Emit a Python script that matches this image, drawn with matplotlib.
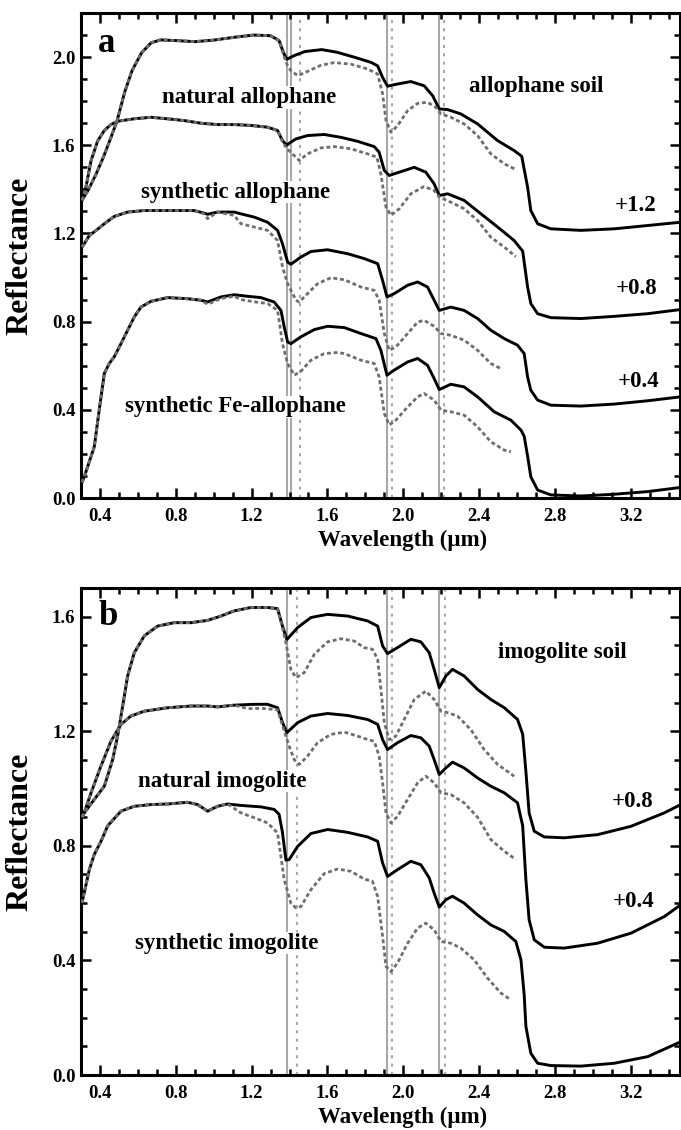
import matplotlib
matplotlib.use("Agg")
import matplotlib.pyplot as plt
from matplotlib.ticker import MultipleLocator, FormatStrFormatter

plt.rcParams['font.family'] = ['Liberation Serif', 'DejaVu Serif']
plt.rcParams['font.weight'] = 'bold'

# ---------------- Panel a: allophane ----------------
a1_wl = [0.305, 0.34, 0.38, 0.42, 0.46, 0.49, 0.53, 0.57, 0.62, 0.67, 0.72, 0.80, 0.90, 1.00, 1.11, 1.21, 1.30, 1.345, 1.368, 1.386, 1.42, 1.48, 1.57, 1.65, 1.74, 1.83, 1.865, 1.891, 1.917, 1.97, 2.04, 2.11, 2.155, 2.19, 2.234, 2.304, 2.392, 2.498, 2.585, 2.625, 2.656, 2.673, 2.709, 2.779, 2.937, 3.113, 3.289, 3.464]
a1_r = [1.35, 1.40, 1.47, 1.55, 1.64, 1.71, 1.84, 1.94, 2.02, 2.065, 2.078, 2.075, 2.07, 2.077, 2.09, 2.10, 2.097, 2.075, 2.02, 1.99, 2.005, 2.025, 2.034, 2.022, 2.0, 1.976, 1.96, 1.908, 1.868, 1.878, 1.889, 1.87, 1.825, 1.765, 1.762, 1.742, 1.697, 1.621, 1.576, 1.55, 1.41, 1.304, 1.244, 1.221, 1.214, 1.221, 1.236, 1.251]
a1d_wl = [0.305, 0.34, 0.38, 0.42, 0.46, 0.49, 0.53, 0.57, 0.62, 0.67, 0.72, 0.80, 0.90, 1.00, 1.11, 1.21, 1.30, 1.345, 1.368, 1.39, 1.41, 1.445, 1.495, 1.566, 1.636, 1.724, 1.812, 1.865, 1.891, 1.909, 1.935, 1.97, 2.023, 2.076, 2.128, 2.172, 2.199, 2.251, 2.321, 2.392, 2.462, 2.533, 2.594]
a1d_r = [1.35, 1.40, 1.47, 1.55, 1.64, 1.71, 1.84, 1.94, 2.02, 2.065, 2.078, 2.075, 2.07, 2.077, 2.09, 2.10, 2.097, 2.075, 2.01, 1.96, 1.935, 1.916, 1.935, 1.963, 1.975, 1.968, 1.946, 1.923, 1.833, 1.712, 1.659, 1.689, 1.757, 1.79, 1.795, 1.772, 1.742, 1.727, 1.697, 1.644, 1.561, 1.516, 1.49]

a2_wl = [0.305, 0.326, 0.353, 0.388, 0.423, 0.458, 0.493, 0.58, 0.67, 0.757, 0.845, 0.933, 1.02, 1.108, 1.196, 1.284, 1.337, 1.363, 1.386, 1.40, 1.434, 1.495, 1.583, 1.671, 1.759, 1.847, 1.873, 1.90, 1.926, 1.979, 2.058, 2.119, 2.163, 2.19, 2.234, 2.321, 2.41, 2.498, 2.585, 2.63, 2.656, 2.673, 2.709, 2.779, 2.937, 3.113, 3.289, 3.464]
a2_r = [1.35, 1.41, 1.53, 1.62, 1.667, 1.694, 1.709, 1.72, 1.727, 1.72, 1.712, 1.70, 1.694, 1.694, 1.69, 1.682, 1.667, 1.621, 1.60, 1.61, 1.629, 1.644, 1.649, 1.636, 1.618, 1.594, 1.568, 1.486, 1.463, 1.478, 1.50, 1.478, 1.425, 1.372, 1.38, 1.35, 1.289, 1.229, 1.168, 1.12, 0.957, 0.882, 0.836, 0.818, 0.814, 0.824, 0.836, 0.855]
a2d_wl = [0.305, 0.326, 0.353, 0.388, 0.423, 0.458, 0.493, 0.58, 0.67, 0.757, 0.845, 0.933, 1.02, 1.108, 1.196, 1.284, 1.337, 1.363, 1.386, 1.407, 1.451, 1.495, 1.566, 1.636, 1.724, 1.812, 1.861, 1.882, 1.909, 1.935, 1.979, 2.04, 2.11, 2.163, 2.19, 2.251, 2.321, 2.392, 2.462, 2.533, 2.594]
a2d_r = [1.35, 1.41, 1.53, 1.62, 1.667, 1.694, 1.709, 1.72, 1.727, 1.72, 1.712, 1.70, 1.694, 1.694, 1.69, 1.682, 1.667, 1.615, 1.585, 1.568, 1.531, 1.561, 1.588, 1.594, 1.584, 1.561, 1.546, 1.47, 1.319, 1.282, 1.312, 1.38, 1.413, 1.395, 1.365, 1.342, 1.312, 1.259, 1.183, 1.138, 1.095]

a3_wl = [0.305, 0.317, 0.344, 0.38, 0.423, 0.475, 0.546, 0.634, 0.757, 0.897, 0.95, 0.968, 1.02, 1.108, 1.144, 1.214, 1.284, 1.337, 1.363, 1.39, 1.407, 1.46, 1.513, 1.60, 1.707, 1.794, 1.865, 1.891, 1.914, 1.952, 2.023, 2.076, 2.128, 2.163, 2.19, 2.251, 2.321, 2.392, 2.462, 2.533, 2.603, 2.638, 2.656, 2.673, 2.709, 2.779, 2.937, 3.113, 3.289, 3.464]
a3_r = [1.138, 1.153, 1.191, 1.214, 1.244, 1.277, 1.297, 1.304, 1.304, 1.304, 1.292, 1.287, 1.297, 1.297, 1.289, 1.274, 1.251, 1.214, 1.153, 1.07, 1.06, 1.093, 1.118, 1.126, 1.108, 1.086, 1.063, 0.987, 0.912, 0.927, 0.965, 0.98, 0.957, 0.897, 0.851, 0.866, 0.851, 0.814, 0.761, 0.723, 0.693, 0.655, 0.549, 0.489, 0.444, 0.421, 0.417, 0.426, 0.441, 0.459]
a3d_wl = [0.305, 0.317, 0.344, 0.38, 0.423, 0.475, 0.546, 0.634, 0.757, 0.897, 0.95, 0.968, 1.02, 1.108, 1.144, 1.214, 1.284, 1.337, 1.363, 1.39, 1.434, 1.451, 1.495, 1.548, 1.618, 1.689, 1.777, 1.847, 1.873, 1.90, 1.926, 1.961, 2.023, 2.076, 2.11, 2.163, 2.199, 2.251, 2.321, 2.392, 2.462, 2.515]
a3d_r = [1.138, 1.153, 1.191, 1.214, 1.244, 1.277, 1.297, 1.304, 1.304, 1.304, 1.289, 1.267, 1.297, 1.282, 1.244, 1.229, 1.214, 1.168, 1.048, 0.972, 0.897, 0.889, 0.927, 0.972, 0.999, 0.99, 0.957, 0.942, 0.897, 0.746, 0.67, 0.685, 0.746, 0.798, 0.806, 0.779, 0.746, 0.738, 0.716, 0.67, 0.61, 0.587]

a4_wl = [0.305, 0.317, 0.335, 0.37, 0.396, 0.423, 0.449, 0.475, 0.511, 0.546, 0.581, 0.616, 0.669, 0.757, 0.862, 0.933, 0.968, 1.038, 1.108, 1.179, 1.249, 1.319, 1.355, 1.372, 1.39, 1.407, 1.46, 1.531, 1.601, 1.689, 1.777, 1.856, 1.882, 1.914, 1.952, 2.023, 2.076, 2.128, 2.163, 2.19, 2.251, 2.321, 2.392, 2.48, 2.568, 2.621, 2.638, 2.656, 2.673, 2.709, 2.779, 2.937, 3.113, 3.289, 3.464]
a4_r = [0.07, 0.096, 0.142, 0.232, 0.399, 0.565, 0.61, 0.64, 0.70, 0.761, 0.821, 0.866, 0.892, 0.909, 0.904, 0.897, 0.889, 0.912, 0.922, 0.915, 0.909, 0.889, 0.851, 0.776, 0.708, 0.70, 0.731, 0.764, 0.779, 0.773, 0.746, 0.723, 0.67, 0.557, 0.58, 0.617, 0.633, 0.602, 0.542, 0.492, 0.516, 0.504, 0.459, 0.391, 0.353, 0.308, 0.28, 0.19, 0.096, 0.036, 0.014, 0.009, 0.017, 0.029, 0.048]
a4d_wl = [0.305, 0.317, 0.335, 0.37, 0.396, 0.423, 0.449, 0.475, 0.511, 0.546, 0.581, 0.616, 0.669, 0.757, 0.862, 0.933, 0.968, 1.038, 1.108, 1.144, 1.214, 1.284, 1.337, 1.363, 1.39, 1.425, 1.46, 1.513, 1.583, 1.654, 1.689, 1.777, 1.847, 1.873, 1.90, 1.926, 1.961, 2.023, 2.076, 2.11, 2.163, 2.199, 2.251, 2.321, 2.392, 2.462, 2.533, 2.568]
a4d_r = [0.07, 0.096, 0.142, 0.232, 0.399, 0.565, 0.61, 0.64, 0.70, 0.761, 0.821, 0.866, 0.892, 0.909, 0.904, 0.897, 0.879, 0.905, 0.915, 0.90, 0.89, 0.882, 0.851, 0.70, 0.61, 0.557, 0.575, 0.625, 0.655, 0.66, 0.655, 0.625, 0.61, 0.549, 0.384, 0.331, 0.353, 0.413, 0.459, 0.474, 0.444, 0.399, 0.391, 0.376, 0.323, 0.255, 0.217, 0.21]

# ---------------- Panel b: imogolite ----------------
b1_wl = [0.305, 0.317, 0.37, 0.423, 0.467, 0.493, 0.52, 0.546, 0.581, 0.634, 0.704, 0.792, 0.88, 0.968, 1.038, 1.108, 1.196, 1.284, 1.337, 1.363, 1.386, 1.443, 1.513, 1.601, 1.707, 1.812, 1.865, 1.891, 1.917, 1.97, 2.04, 2.093, 2.137, 2.163, 2.19, 2.225, 2.26, 2.321, 2.392, 2.462, 2.533, 2.603, 2.63, 2.647, 2.664, 2.691, 2.744, 2.849, 3.025, 3.201, 3.377, 3.464]
b1_r = [0.90, 0.915, 0.962, 1.008, 1.101, 1.183, 1.288, 1.393, 1.474, 1.533, 1.567, 1.579, 1.579, 1.587, 1.602, 1.62, 1.632, 1.632, 1.628, 1.567, 1.52, 1.562, 1.597, 1.608, 1.602, 1.585, 1.567, 1.498, 1.471, 1.492, 1.521, 1.512, 1.474, 1.416, 1.352, 1.393, 1.416, 1.393, 1.346, 1.311, 1.282, 1.241, 1.19, 1.06, 0.915, 0.851, 0.831, 0.828, 0.839, 0.868, 0.915, 0.944]
b1d_wl = [0.305, 0.317, 0.37, 0.423, 0.467, 0.493, 0.52, 0.546, 0.581, 0.634, 0.704, 0.792, 0.88, 0.968, 1.038, 1.108, 1.196, 1.284, 1.337, 1.363, 1.381, 1.407, 1.434, 1.478, 1.531, 1.601, 1.671, 1.741, 1.794, 1.838, 1.865, 1.882, 1.90, 1.926, 1.961, 2.005, 2.058, 2.119, 2.163, 2.199, 2.234, 2.286, 2.356, 2.427, 2.498, 2.585]
b1d_r = [0.90, 0.915, 0.962, 1.008, 1.101, 1.183, 1.288, 1.393, 1.474, 1.533, 1.567, 1.579, 1.579, 1.587, 1.602, 1.62, 1.632, 1.632, 1.628, 1.56, 1.509, 1.416, 1.387, 1.405, 1.469, 1.512, 1.523, 1.515, 1.492, 1.486, 1.451, 1.346, 1.23, 1.171, 1.183, 1.241, 1.311, 1.34, 1.311, 1.27, 1.265, 1.253, 1.206, 1.136, 1.084, 1.043]

b2_wl = [0.305, 0.317, 0.353, 0.405, 0.458, 0.511, 0.563, 0.634, 0.757, 0.88, 0.968, 1.02, 1.108, 1.214, 1.284, 1.337, 1.363, 1.386, 1.443, 1.513, 1.601, 1.707, 1.812, 1.865, 1.891, 1.917, 1.97, 2.04, 2.093, 2.137, 2.163, 2.19, 2.225, 2.26, 2.321, 2.392, 2.462, 2.533, 2.603, 2.63, 2.647, 2.664, 2.691, 2.744, 2.849, 3.025, 3.201, 3.377, 3.464]
b2_r = [0.90, 0.915, 0.985, 1.078, 1.165, 1.224, 1.253, 1.27, 1.282, 1.288, 1.288, 1.285, 1.291, 1.294, 1.294, 1.282, 1.23, 1.195, 1.23, 1.253, 1.262, 1.255, 1.241, 1.224, 1.171, 1.136, 1.16, 1.185, 1.177, 1.148, 1.101, 1.049, 1.072, 1.092, 1.072, 1.037, 1.008, 0.985, 0.95, 0.87, 0.682, 0.542, 0.472, 0.446, 0.443, 0.46, 0.495, 0.553, 0.594]
b2d_wl = [0.305, 0.317, 0.353, 0.405, 0.458, 0.511, 0.563, 0.634, 0.757, 0.88, 0.968, 1.02, 1.108, 1.179, 1.25, 1.337, 1.363, 1.398, 1.425, 1.451, 1.495, 1.548, 1.618, 1.689, 1.759, 1.812, 1.847, 1.873, 1.891, 1.909, 1.935, 1.97, 2.023, 2.076, 2.119, 2.163, 2.199, 2.251, 2.321, 2.392, 2.462, 2.533, 2.594]
b2d_r = [0.90, 0.915, 0.985, 1.078, 1.165, 1.224, 1.253, 1.27, 1.282, 1.288, 1.288, 1.285, 1.291, 1.279, 1.28, 1.275, 1.22, 1.148, 1.101, 1.084, 1.113, 1.16, 1.189, 1.197, 1.183, 1.171, 1.165, 1.113, 1.02, 0.915, 0.88, 0.903, 0.962, 1.02, 1.043, 1.02, 0.985, 0.979, 0.95, 0.9, 0.822, 0.781, 0.752]

b3_wl = [0.305, 0.344, 0.37, 0.405, 0.441, 0.511, 0.581, 0.669, 0.757, 0.862, 0.915, 0.968, 1.02, 1.073, 1.144, 1.249, 1.319, 1.345, 1.362, 1.381, 1.398, 1.443, 1.513, 1.601, 1.707, 1.812, 1.865, 1.891, 1.917, 1.97, 2.04, 2.093, 2.137, 2.163, 2.19, 2.225, 2.26, 2.321, 2.392, 2.462, 2.533, 2.594, 2.621, 2.638, 2.647, 2.673, 2.709, 2.779, 2.937, 3.113, 3.289, 3.464]
b3_r = [0.60, 0.717, 0.77, 0.815, 0.87, 0.921, 0.938, 0.944, 0.946, 0.952, 0.944, 0.921, 0.938, 0.946, 0.941, 0.936, 0.927, 0.91, 0.85, 0.75, 0.752, 0.798, 0.843, 0.857, 0.847, 0.831, 0.816, 0.74, 0.693, 0.717, 0.746, 0.734, 0.688, 0.635, 0.586, 0.612, 0.624, 0.60, 0.559, 0.524, 0.501, 0.466, 0.402, 0.28, 0.17, 0.076, 0.041, 0.033, 0.031, 0.041, 0.064, 0.116]
b3d_wl = [0.305, 0.344, 0.37, 0.405, 0.441, 0.511, 0.581, 0.669, 0.757, 0.862, 0.915, 0.968, 1.02, 1.073, 1.144, 1.214, 1.284, 1.337, 1.372, 1.407, 1.434, 1.46, 1.513, 1.583, 1.654, 1.724, 1.794, 1.838, 1.865, 1.891, 1.909, 1.935, 1.97, 2.023, 2.076, 2.119, 2.163, 2.199, 2.251, 2.304, 2.374, 2.445, 2.515, 2.568]
b3d_r = [0.60, 0.717, 0.77, 0.815, 0.87, 0.921, 0.938, 0.944, 0.946, 0.952, 0.944, 0.921, 0.938, 0.946, 0.915, 0.898, 0.88, 0.845, 0.682, 0.60, 0.583, 0.588, 0.647, 0.703, 0.719, 0.711, 0.684, 0.676, 0.623, 0.484, 0.379, 0.361, 0.391, 0.46, 0.513, 0.53, 0.507, 0.466, 0.46, 0.443, 0.402, 0.338, 0.286, 0.262]

# reference band positions (um)
a_solid_lines = [1.385, 1.407, 1.914, 2.19]
a_dotted_lines = [1.455, 1.94, 2.216]
b_solid_lines = [1.386, 1.914, 2.19]
b_dotted_lines = [1.439, 1.94, 2.22]

# text annotations: (text, x, y)
a_labels = [("natural allophane", 1.186, 1.816), ("synthetic allophane", 1.117, 1.387),
            ("synthetic Fe-allophane", 1.117, 0.414), ("allophane soil", 2.70, 1.866),
            ("+1.2", 3.227, 1.327), ("+0.8", 3.232, 0.951), ("+0.4", 3.243, 0.527)]
b_labels = [("imogolite soil", 2.837, 1.475), ("natural imogolite", 1.043, 1.026),
            ("synthetic imogolite", 1.07, 0.46), ("+0.8", 3.211, 0.956), ("+0.4", 3.216, 0.606)]
panel_letters = [("a", 0.39, 2.06), ("b", 0.39, 1.60)]

solid_color = "black"
dot_color = "#6e6e6e"
vline_color = "#a8a8a8"

fig = plt.figure(figsize=(6.81, 11.30), dpi=100)
ax_a = fig.add_axes([81/681, 1 - 498/1130, 599/681, (498-13)/1130])
ax_b = fig.add_axes([81/681, 1 - 1075/1130, 599/681, (1075-588)/1130])

def style(ax, ymax, letter):
    ax.set_xlim(0.3, 3.46)
    ax.set_ylim(0, ymax)
    ax.xaxis.set_major_locator(MultipleLocator(0.4))
    ax.xaxis.set_minor_locator(MultipleLocator(0.1))
    ax.yaxis.set_major_locator(MultipleLocator(0.4))
    ax.yaxis.set_minor_locator(MultipleLocator(0.1))
    ax.xaxis.set_major_formatter(FormatStrFormatter('%.1f'))
    ax.yaxis.set_major_formatter(FormatStrFormatter('%.1f'))
    ax.tick_params(which='both', direction='in', top=True, right=True, width=1.8, labelsize=13.5)
    ax.tick_params(axis='x', which='both', pad=7)
    ax.tick_params(axis='y', which='both', pad=4)
    ax.tick_params(which='major', length=7)
    ax.tick_params(which='minor', length=4.5)
    for sp in ax.spines.values():
        sp.set_linewidth(2.2)
    ax.set_xlabel("Wavelength (\u00b5m)", fontsize=16.5, fontweight='bold')
    ax.xaxis.set_label_coords(0.536, -0.066)
    ax.set_ylabel("Reflectance", fontsize=23, fontweight='bold')
    ax.yaxis.set_label_coords(-0.077, 0.5)
    t, x, y = letter
    ax.text(x, y, t, fontsize=25, fontweight='bold', va='center', ha='left')

def draw(ax, solids, dotteds, slines, dlines, labels):
    for x in slines:
        ax.axvline(x, color=vline_color, lw=1.5, zorder=1)
    for x in dlines:
        ax.axvline(x, color=vline_color, lw=1.5, ls=(0, (1.5, 2.5)), zorder=1)
    for t, x, y in labels:
        ax.text(x, y, t, fontsize=16.5, fontweight='bold', ha='center', va='center', zorder=2,
                bbox=dict(facecolor='white', edgecolor='none', pad=0.5))
    for wl, r in solids:
        ax.plot(wl, r, color=solid_color, lw=2.1, zorder=3, solid_joinstyle='round')
    for wl, r in dotteds:
        ax.plot(wl, r, color=dot_color, lw=2.0, ls=(0, (1.4, 1.0)), zorder=4)

draw(ax_a, [(a1_wl, a1_r), (a2_wl, a2_r), (a3_wl, a3_r), (a4_wl, a4_r)],
     [(a1d_wl, a1d_r), (a2d_wl, a2d_r), (a3d_wl, a3d_r), (a4d_wl, a4d_r)],
     a_solid_lines, a_dotted_lines, a_labels)
draw(ax_b, [(b1_wl, b1_r), (b2_wl, b2_r), (b3_wl, b3_r)],
     [(b1d_wl, b1d_r), (b2d_wl, b2d_r), (b3d_wl, b3d_r)],
     b_solid_lines, b_dotted_lines, b_labels)
style(ax_a, 2.2, panel_letters[0])
style(ax_b, 1.7, panel_letters[1])

fig.savefig("out.png", dpi=100)
